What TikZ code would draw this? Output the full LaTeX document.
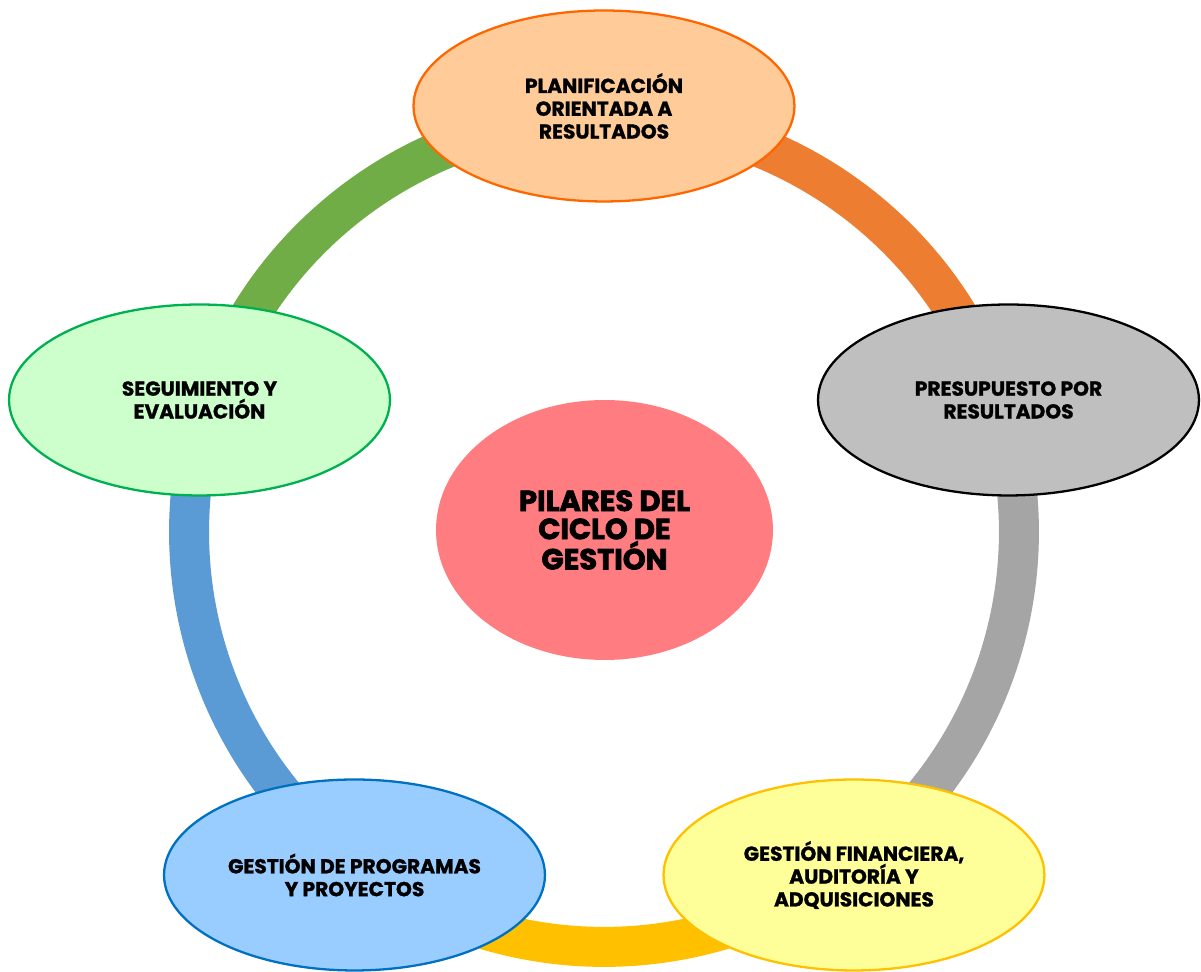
\documentclass[tikz,border=0pt]{standalone}
\usepackage{fontspec}
\setmainfont{Poppins}[BoldFeatures={FakeBold=1.2}]
\newfontfamily\centrofont{Poppins}[BoldFeatures={FakeBold=2.5}]
\usepackage{xcolor}
\usetikzlibrary{shapes.geometric}

\definecolor{verdeAro}{RGB}{112,173,71}
\definecolor{naranjaAro}{RGB}{237,125,49}
\definecolor{grisAro}{RGB}{165,165,165}
\definecolor{amarilloAro}{RGB}{255,192,0}
\definecolor{azulAro}{RGB}{91,155,213}
\definecolor{fondoPlan}{RGB}{255,204,153}
\definecolor{bordePlan}{RGB}{255,102,0}
\definecolor{fondoPres}{RGB}{191,191,191}
\definecolor{fondoSeg}{RGB}{204,255,204}
\definecolor{bordeSeg}{RGB}{0,176,80}
\definecolor{fondoProg}{RGB}{153,204,255}
\definecolor{bordeProg}{RGB}{0,112,192}
\definecolor{fondoFin}{RGB}{255,255,153}
\definecolor{bordeFin}{RGB}{255,192,0}
\definecolor{fondoCentro}{RGB}{255,124,128}

\begin{document}
\begin{tikzpicture}[x=0.02cm,y=0.02cm,
	pilar/.style={ellipse,line width=1.3pt,minimum width=7.62cm,minimum height=3.82cm,
		inner sep=0pt,align=center,font=\bfseries\fontsize{11.5}{13}\selectfont},
	tramo/.style={line width=0.8cm}]
	\useasboundingbox (-604,-440) rectangle (597,532);

	% puntos del aro
	\coordinate (c) at (0,0);
	\coordinate (aPlan) at (90:8.3cm);
	\coordinate (aPres) at (18:8.3cm);
	\coordinate (aFin) at (-54:8.3cm);
	\coordinate (aProg) at (-126:8.3cm);
	\coordinate (aSeg) at (162:8.3cm);

	% tramos del aro
	\draw[tramo,naranjaAro] (aPlan) arc[start angle=90,end angle=18,radius=8.3cm];
	\draw[tramo,grisAro] (aPres) arc[start angle=18,end angle=-54,radius=8.3cm];
	\draw[tramo,amarilloAro] (aFin) arc[start angle=-54,end angle=-126,radius=8.3cm];
	\draw[tramo,azulAro] (aProg) arc[start angle=-126,end angle=-198,radius=8.3cm];
	\draw[tramo,verdeAro] (aSeg) arc[start angle=162,end angle=90,radius=8.3cm];

	% pilares
	\node[pilar,draw=bordePlan,fill=fondoPlan] (plan) at (0,426) {PLANIFICACIÓN\\ORIENTADA A\\RESULTADOS};
	\node[pilar,draw=black,fill=fondoPres] (pres) at (404.5,132) {PRESUPUESTO POR\\RESULTADOS};
	\node[pilar,draw=bordeFin,fill=fondoFin] (fin) at (250,-343) {GESTIÓN FINANCIERA,\\AUDITORÍA Y\\ADQUISICIONES};
	\node[pilar,draw=bordeProg,fill=fondoProg] (prog) at (-249.5,-343) {GESTIÓN DE PROGRAMAS\\Y PROYECTOS};
	\node[pilar,draw=bordeSeg,fill=fondoSeg] (seg) at (-404.5,132) {SEGUIMIENTO Y\\EVALUACIÓN};

	% centro
	\node[ellipse,fill=fondoCentro,minimum width=6.74cm,minimum height=5.2cm,inner sep=0pt,
		align=center,font=\centrofont\bfseries\fontsize{16.5}{16}\selectfont] (centro) at (0.5,2) {PILARES DEL\\CICLO DE\\GESTIÓN};
\end{tikzpicture}
\end{document}
